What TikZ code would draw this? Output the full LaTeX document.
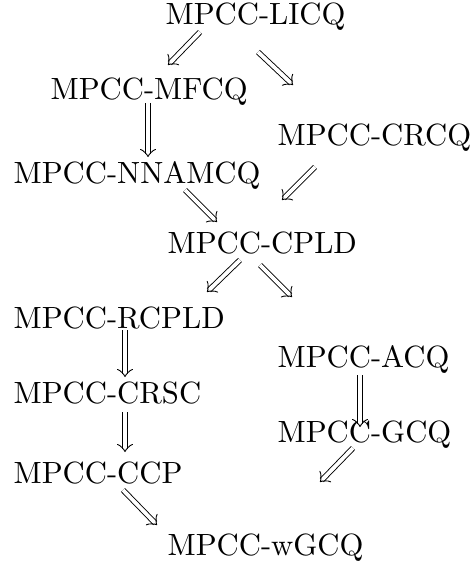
\documentclass[tikz,border=0pt]{standalone}
\usetikzlibrary{arrows.meta}
\newcommand\implarrow[2]{%
  \draw[dblline] #1 -- #2;
  \draw[tipline] #1 -- #2;}
\begin{document}
\begin{tikzpicture}[x=1pt,y=1pt,
  lbl/.style={anchor=base west,inner sep=0pt,font=\fontsize{10}{12}\selectfont,scale=3.07,transform shape},
  dblline/.style={line width=0.9pt,double,double distance=3.8pt,shorten >=2.6pt},
  tipline/.style={draw=white,line width=0.4pt,shorten <=3pt,-{Classical TikZ Rightarrow[color=black,length=8pt,width=16pt,line width=0.9pt]}}]
\useasboundingbox (0,0) rectangle (471,-567);
\node[lbl] (licq) at (165,-25) {MPCC-LICQ};
\node[lbl] (mfcq) at (50,-100) {MPCC-MFCQ};
\node[lbl] (crcq) at (277,-145) {MPCC-CRCQ};
\node[lbl] (nnamcq) at (13,-183) {MPCC-NNAMCQ};
\node[lbl] (cpld) at (167,-253) {MPCC-CPLD};
\node[lbl] (rcpld) at (13,-328) {MPCC-RCPLD};
\node[lbl] (acq) at (277,-367) {MPCC-ACQ};
\node[lbl] (crsc) at (13,-403) {MPCC-CRSC};
\node[lbl] (gcq) at (277,-442) {MPCC-GCQ};
\node[lbl] (ccp) at (13,-483) {MPCC-CCP};
\node[lbl] (wgcq) at (167,-555) {MPCC-wGCQ};
\implarrow{([shift={(35,-7)}]licq.base west)}{([shift={(118,35)}]mfcq.base west)}
\implarrow{([shift={(93,-27)}]licq.base west)}{([shift={(16,60)}]crcq.base west)}
\implarrow{([shift={(98,-3)}]mfcq.base west)}{([shift={(135,26)}]nnamcq.base west)}
\implarrow{([shift={(38,-22)}]crcq.base west)}{([shift={(115,53)}]cpld.base west)}
\implarrow{([shift={(172,-7)}]nnamcq.base west)}{([shift={(50,31)}]cpld.base west)}
\implarrow{([shift={(73,-7)}]cpld.base west)}{([shift={(194,36)}]rcpld.base west)}
\implarrow{([shift={(93,-12)}]cpld.base west)}{([shift={(15,70)}]acq.base west)}
\implarrow{([shift={(112,-2)}]rcpld.base west)}{([shift={(112,26)}]crsc.base west)}
\implarrow{([shift={(83,-8)}]acq.base west)}{([shift={(83,15)}]gcq.base west)}
\implarrow{([shift={(112,-9)}]crsc.base west)}{([shift={(112,31)}]ccp.base west)}
\implarrow{([shift={(76,-6)}]gcq.base west)}{([shift={(153,73)}]wgcq.base west)}
\implarrow{([shift={(110,-7)}]ccp.base west)}{([shift={(-10,30)}]wgcq.base west)}
\end{tikzpicture}
\end{document}
